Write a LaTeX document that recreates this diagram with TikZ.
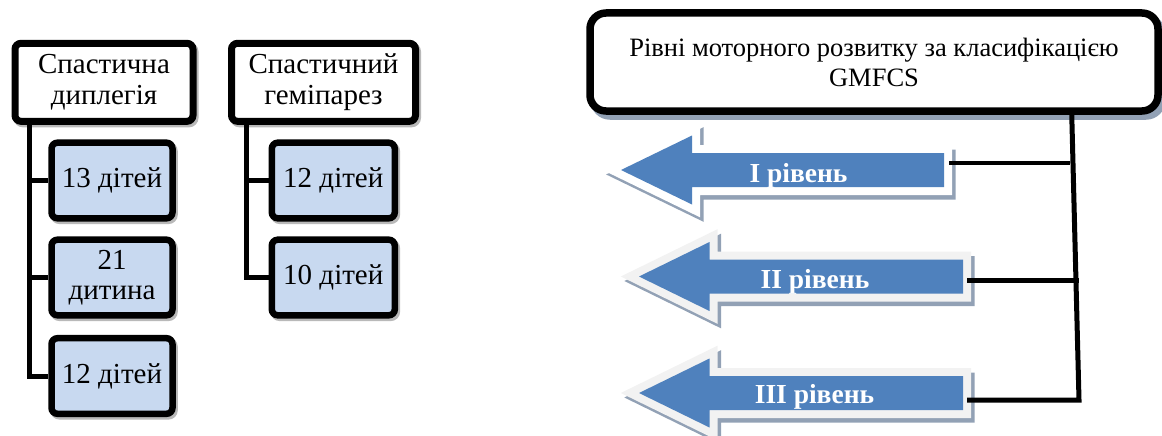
\documentclass[tikz,border=0pt]{standalone}
\usepackage{fontspec}
\setmainfont{Liberation Serif}
\usetikzlibrary{calc}
\definecolor{boxblue}{RGB}{200,217,240}
\definecolor{arrblue}{RGB}{79,129,189}
\definecolor{arrrim}{RGB}{242,242,242}
\definecolor{shadowc}{RGB}{146,161,181}
\definecolor{boxshadow}{RGB}{185,185,185}
\tikzset{
  parentbox/.style={draw=black, fill=white, line width=7pt, rounded corners=6pt,
    align=center, inner sep=0pt, minimum height=78pt,
    font=\fontsize{29}{31.3}\selectfont,
    preaction={draw=boxshadow, fill=boxshadow,
      transform canvas={shift={(2pt,-2.5pt)}}}},
  childbox/.style={draw=black, fill=boxblue, line width=6.5pt, rounded corners=6pt,
    align=center, inner sep=0pt, minimum height=75.6pt,
    font=\fontsize{29}{30}\selectfont,
    preaction={draw=boxshadow, fill=boxshadow,
      transform canvas={shift={(2pt,-2.5pt)}}}},
  hdrbox/.style={draw=black, fill=white, line width=7.5pt, rounded corners=16pt,
    align=center, inner sep=0pt, minimum width=568pt, minimum height=98pt,
    font=\fontsize{26.5}{30}\selectfont,
    preaction={draw=shadowc, fill=shadowc,
      transform canvas={shift={(4pt,-5pt)}}}},
  conn/.style={draw=black, line width=5pt},
  lvltext/.style={text=white, inner sep=0pt, anchor=base,
    font=\bfseries\fontsize{27.5}{30}\selectfont},
  arrshadow/.style={draw=shadowc, fill=shadowc, line width=16pt, line join=miter,
    shift={(3.5,4.5)}},
  arrrimstyle/.style={draw=#1, fill=#1, line width=16pt, line join=miter},
  arrbody/.style={fill=arrblue}
}
% arrow path: tip x, head-back x, right x, midline y
\def\arrpath#1#2#3#4{(#1,#4) -- (#2,#4-34.5) -- (#2,#4-17) -- (#3,#4-17) -- (#3,#4+17) -- (#2,#4+17) -- (#2,#4+34.5) -- cycle}
\begin{document}
\begin{tikzpicture}[x=1pt,y=-1pt]
\useasboundingbox (0,0) rectangle (1162,436);
\clip (0,0) rectangle (1162,436);

% ---------- left: spastic diplegia ----------
\node[parentbox, minimum width=178pt] (p1) at (104,82.3) {Спастична\\диплегія};
\node[childbox, minimum width=121pt] (c1) at (112,180.5) {13 дітей};
\node[childbox, minimum width=121pt] (c2) at (112,277.5) {21\\дитина};
\node[childbox, minimum width=121pt] (c3) at (112,376) {12 дітей};
\draw[conn] ($(p1.south west)+(18.3,0)$) |- (c1.west);
\draw[conn] ($(p1.south west)+(18.3,0)$) |- (c2.west);
\draw[conn] ($(p1.south west)+(18.3,0)$) |- (c3.west);

% ---------- left: spastic hemiparesis ----------
\node[parentbox, minimum width=184pt] (p2) at (323.5,82.3) {Спастичний\\геміпарез};
\node[childbox, minimum width=123pt] (d1) at (333.3,180.5) {12 дітей};
\node[childbox, minimum width=123pt] (d2) at (333.3,277.5) {10 дітей};
\draw[conn] ($(p2.south west)+(18.5,0)$) |- (d1.west);
\draw[conn] ($(p2.south west)+(18.5,0)$) |- (d2.west);

% ---------- right: GMFCS header ----------
\node[hdrbox] (hdr) at (874,62) {Рівні моторного розвитку за класифікацією\\GMFCS};

% ---------- arrows ----------
\path[arrshadow] \arrpath{621}{692}{944}{170};
\path[arrrimstyle=white] \arrpath{621}{692}{944}{170};
\path[arrbody] \arrpath{621}{692}{944}{170};
\node[lvltext] (a1) at (798.5,182) {I рівень};

\path[arrshadow] \arrpath{639}{709.5}{963}{276.5};
\path[arrrimstyle=arrrim] \arrpath{639}{709.5}{963}{276.5};
\path[arrbody] \arrpath{639}{709.5}{963}{276.5};
\node[lvltext] (a2) at (815,288) {II рівень};

\path[arrshadow] \arrpath{639}{709.5}{963}{393};
\path[arrrimstyle=arrrim] \arrpath{639}{709.5}{963}{393};
\path[arrbody] \arrpath{639}{709.5}{963}{393};
\node[lvltext] (a3) at (814.5,403) {III рівень};

% ---------- right connectors ----------
\coordinate (ttop) at ($(hdr.south east)+(-90,0)$);
\coordinate (tbot) at (1079,400);
\coordinate (s1) at (949,163);
\coordinate (j1) at (1070,163);
\coordinate (s2) at (967,280);
\coordinate (j2) at (1079,280);
\coordinate (s3) at (967,400);
\draw[conn, line join=miter] (ttop) -- (tbot) -- (s3);
\draw[conn, line width=4pt] (s1) -- (j1);
\draw[conn] (s2) -- (j2);
\end{tikzpicture}
\end{document}
